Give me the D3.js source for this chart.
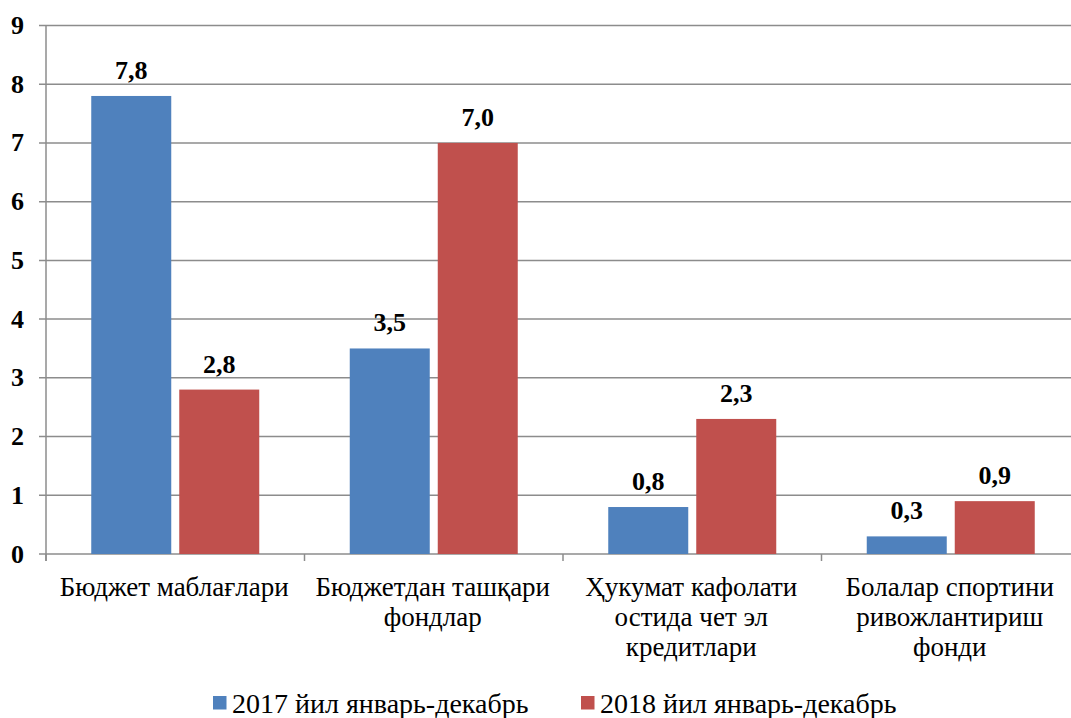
<!DOCTYPE html>
<html>
<head>
<meta charset="utf-8">
<script src="https://cdn.jsdelivr.net/npm/d3@7"></script>
</head>
<body style="margin:0">
<script>
// Chart data
var categories = [
    ["Бюджет маблағлари"],
    ["Бюджетдан ташқари", "фондлар"],
    ["Ҳукумат кафолати", "остида чет эл", "кредитлари"],
    ["Болалар спортини", "ривожлантириш", "фонди"]
];
var seriesNames = ["2017 йил январь-декабрь", "2018 йил январь-декабрь"];
var values2017 = [7.8, 3.5, 0.8, 0.3];
var values2018 = [2.8, 7.0, 2.3, 0.9];
var yTicks = [0, 1, 2, 3, 4, 5, 6, 7, 8, 9];
var colors = ["#4F81BD", "#C0504D"];

var width = 1071, height = 718;
var plot = { left: 46, right: 1080, top: 25.5, bottom: 554 };
var gridColor = "#8c8c8c";

var svg = d3.select("body").append("svg")
    .attr("width", width)
    .attr("height", height);

var x = d3.scaleBand()
    .domain(d3.range(categories.length))
    .range([plot.left, plot.right]);

var y = d3.scaleLinear()
    .domain([0, 9])
    .range([plot.bottom, plot.top]);

// gridlines (with little tick stubs on the left)
svg.append("g").selectAll("line")
    .data(yTicks)
    .enter()
    .append("line")
        .attr("x1", plot.left - 7)
        .attr("x2", plot.right)
        .attr("y1", function(d) { return y(d); })
        .attr("y2", function(d) { return y(d); })
        .style("stroke", gridColor)
        .style("stroke-width", "1.5px");

// y axis line
svg.append("line")
    .attr("x1", plot.left).attr("x2", plot.left)
    .attr("y1", y(9)).attr("y2", plot.bottom + 7)
    .style("stroke", gridColor)
    .style("stroke-width", "1.5px");

// category separator ticks
svg.append("g").selectAll("line")
    .data(d3.range(categories.length + 1))
    .enter()
    .append("line")
        .attr("x1", function(i) { return plot.left + i * x.bandwidth(); })
        .attr("x2", function(i) { return plot.left + i * x.bandwidth(); })
        .attr("y1", plot.bottom)
        .attr("y2", plot.bottom + 7)
        .style("stroke", gridColor)
        .style("stroke-width", "1.5px");

// y tick labels
svg.append("g").selectAll("text")
    .data(yTicks)
    .enter()
    .append("text")
        .attr("x", 24)
        .attr("y", function(d) { return y(d) + 8.5; })
        .attr("text-anchor", "end")
        .style("font-family", "Liberation Serif")
        .style("font-size", "26px")
        .style("font-weight", "bold")
        .text(function(d) { return d; });

// bars + value labels
var barW = 80, barGap = 8;
var series = [values2017, values2018];
var fmt = function(v) { return v.toFixed(1).replace(".", ","); };

series.forEach(function(vals, s) {
    var g = svg.append("g");
    var bx = function(d, i) {
        return x(i) + (x.bandwidth() - 2 * barW - barGap) / 2 + s * (barW + barGap);
    };
    g.selectAll("rect")
        .data(vals)
        .enter()
        .append("rect")
            .attr("x", bx)
            .attr("y", function(d) { return y(d); })
            .attr("width", barW)
            .attr("height", function(d) { return plot.bottom - y(d); })
            .style("fill", colors[s]);
    g.selectAll("text")
        .data(vals)
        .enter()
        .append("text")
            .attr("x", function(d, i) { return bx(d, i) + barW / 2; })
            .attr("y", function(d) { return y(d) - 17; })
            .attr("text-anchor", "middle")
            .style("font-family", "Liberation Serif")
            .style("font-size", "26px")
            .style("font-weight", "bold")
            .text(fmt);
});

// category labels
categories.forEach(function(lines, i) {
    lines.forEach(function(line, j) {
        svg.append("text")
            .attr("x", x(i) + x.bandwidth() / 2 - 1)
            .attr("y", 596 + j * 30)
            .attr("text-anchor", "middle")
            .style("font-family", "Liberation Serif")
            .style("font-size", "27px")
            .text(line);
    });
});

// legend
var legendX = [213, 581];
seriesNames.forEach(function(name, s) {
    svg.append("rect")
        .attr("x", legendX[s])
        .attr("y", 696)
        .attr("width", 13.5)
        .attr("height", 13.5)
        .style("fill", colors[s]);
    svg.append("text")
        .attr("x", legendX[s] + 19)
        .attr("y", 713)
        .style("font-family", "Liberation Serif")
        .style("font-size", "28px")
        .text(name);
});
</script>
</body>
</html>
